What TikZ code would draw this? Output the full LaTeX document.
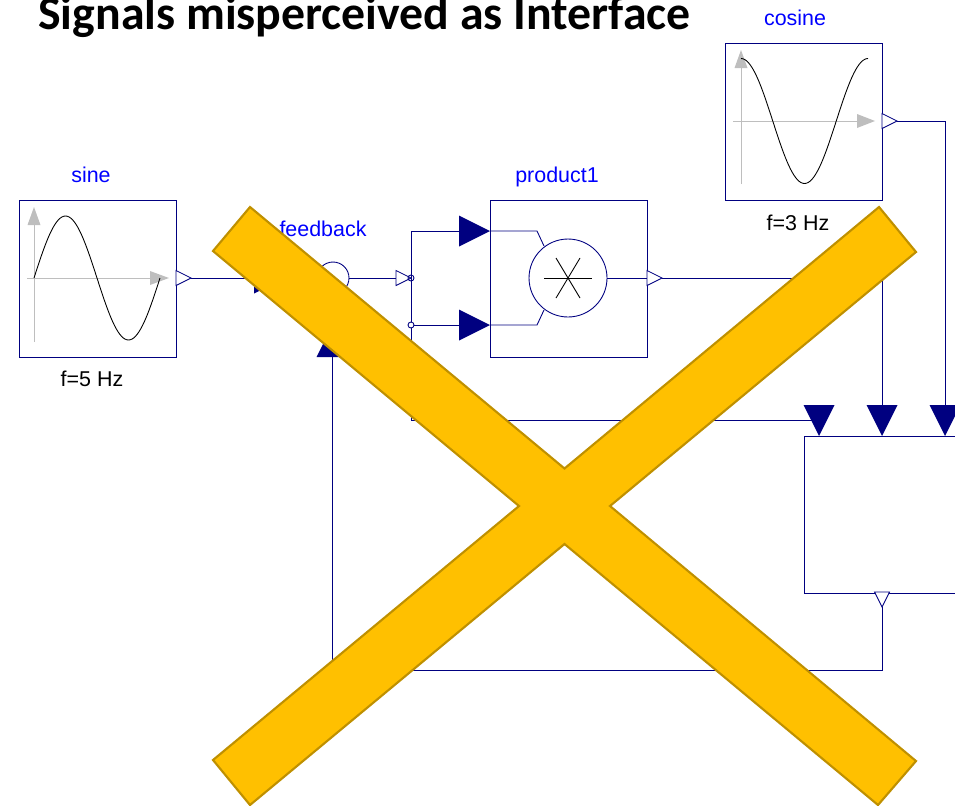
\documentclass[tikz,border=0pt]{standalone}
\usepackage{fontspec}
\setmainfont{Liberation Sans}
\newfontfamily\titlefont{Carlito}
\usepackage{xcolor}
\usetikzlibrary{positioning, calc}
\definecolor{wirenavy}{RGB}{0,0,128}
\definecolor{labelblue}{RGB}{0,0,255}
\definecolor{axisgray}{RGB}{190,190,190}
\definecolor{crossgold}{RGB}{255,192,0}
\definecolor{crossedge}{RGB}{191,144,0}
\tikzset{
    blockbox/.style={draw=wirenavy, line width=0.5pt, minimum size=3.14cm, inner sep=0pt},
    wire/.style={draw=wirenavy, line width=0.5pt},
    outport/.style={draw=wirenavy, fill=white, line width=0.5pt},
    inport/.style={fill=wirenavy},
    axisline/.style={draw=axisgray, line width=0.5pt},
    axistip/.style={fill=axisgray},
    wave/.style={draw=black, line width=0.5pt},
    namelabel/.style={text=labelblue, anchor=base, font=\fontsize{12.2}{14}\selectfont, inner sep=0pt},
    paramlabel/.style={text=black, anchor=base, font=\fontsize{12.2}{14}\selectfont, inner sep=0pt}
}
\begin{document}
\begin{tikzpicture}[x=0.02cm, y=-0.02cm]
    \useasboundingbox (0,0) rectangle (955,805);
    \clip (0,0) rectangle (955,805);

    % title
    \node[anchor=base west, inner sep=0pt, font=\titlefont\bfseries\fontsize{27.2}{32}\selectfont] (title) at (38,29) {Signals misperceived as Interface};

    % blocks
    \node[blockbox] (sine) at (97.5,278.5) {};
    \node[blockbox] (cosine) at (803.5,121.5) {};
    \node[blockbox] (product) at (568.5,278.5) {};
    \node[blockbox, anchor=north west] (collector) at (804,436) {};
    \node[draw=wirenavy, line width=0.5pt, circle, minimum size=0.64cm, inner sep=0pt] (feedback) at (333,278) {};
    \node[draw=wirenavy, line width=0.5pt, circle, minimum size=1.56cm, inner sep=0pt] (mult) at (568,278) {};

    % labels
    \node[namelabel] (sinename) at (91,182) {sine};
    \node[namelabel] (cosinename) at (795,25) {cosine};
    \node[namelabel] (productname) at (557,182.5) {product1};
    \node[namelabel] (feedbackname) at (323,236.5) {feedback};
    \node[paramlabel] (sinefreq) at (92,386.5) {f=5 Hz};
    \node[paramlabel] (cosinefreq) at (798,230.5) {f=3 Hz};

    % port points
    \coordinate (sineout) at (191,278);
    \coordinate (fbleft) at (285,278);
    \coordinate (fbbelow) at (332,326);
    \coordinate (fbout) at (396,278);
    \coordinate (branchA) at (411,278);
    \coordinate (branchB) at (411,325);
    \coordinate (branchtop) at (411,231);
    \coordinate (branchlow) at (411,420);
    \coordinate (prodA) at (459,231);
    \coordinate (prodB) at (459,325);
    \coordinate (prodout) at (662,278);
    \coordinate (cosout) at (897,121);
    \coordinate (collA) at (819,405);
    \coordinate (collB) at (882,405);
    \coordinate (collC) at (945,405);
    \coordinate (collout) at (882,607);
    \coordinate (returnR) at (882,670);
    \coordinate (returnL) at (332,670);

    % connectors
    \draw[wire] (sineout) -- (fbleft);
    \draw[wire] (feedback.east) -- (fbout);
    \draw[wire] (branchtop) -- (branchlow) -- (collA |- branchlow);
    \draw[wire] (branchtop) -- (prodA);
    \draw[wire] (branchB) ++(3,0) -- (prodB);
    \draw[wire] (prodout) -| (collB);
    \draw[wire] (cosout) -| (collC);
    \draw[wire] (collout) -- (returnR) -- (returnL) -- (fbbelow);

    % inside of product1
    \draw[wire] (490,231) -- (537,231) -- (544,246);
    \draw[wire] (490,325) -- (537,325) -- (544,310);
    \draw[wire] (mult.east) -- (647,278);
    \draw[black, line width=0.5pt] (544,278) -- (592,278);
    \draw[black, line width=0.5pt] (556,258) -- (580,298);
    \draw[black, line width=0.5pt] (580,258) -- (556,298);

    % filled input triangles
    \fill[inport] (254,262.5) -- (285,278) -- (254,293.5) -- cycle;
    \fill[inport] (316.5,357) -- (332,326) -- (347.5,357) -- cycle;
    \foreach \y in {231, 325}
        \fill[inport] (459,\y-15.5) -- (490,\y) -- (459,\y+15.5) -- cycle;
    \foreach \x in {819, 882, 945}
        \fill[inport] (\x-15.5,405) -- (\x,436) -- (\x+15.5,405) -- cycle;

    % open output triangles
    \foreach \x/\y in {176/278, 396/278, 647/278, 882/121}
        \draw[outport] (\x,\y-7.5) -- (\x+15,\y) -- (\x,\y+7.5) -- cycle;
    \draw[outport] (874.5,592) -- (882,607) -- (889.5,592) -- cycle;

    % branch points
    \draw[wirenavy, line width=0.5pt] (branchA) circle[radius=3];
    \draw[wirenavy, fill=white, line width=0.5pt] (branchB) circle[radius=3];

    % sine icon
    \draw[axisline] (34,342) -- (34,225);
    \fill[axistip] (27.5,225) -- (34,207) -- (40.5,225) -- cycle;
    \draw[axisline] (27,278) -- (150,278);
    \fill[axistip] (150,271) -- (169,278) -- (150,285) -- cycle;
    \draw[wave] plot[domain=0:360, samples=73, smooth] ({34+\x/360*126}, {278-62*sin(\x)});

    % cosine icon
    \draw[axisline] (741,184) -- (741,68);
    \fill[axistip] (734.5,68) -- (741,50) -- (747.5,68) -- cycle;
    \draw[axisline] (733,121) -- (857,121);
    \fill[axistip] (857,114) -- (875,121) -- (857,128) -- cycle;
    \draw[wave] plot[domain=0:360, samples=73, smooth] ({741+\x/360*127}, {121-62.5*cos(\x)});

    % cross
    \draw[fill=crossgold, draw=crossedge, line width=1.2pt, line join=miter]
        (250,207) -- (564.5,468.5) -- (879,207) -- (916,252) -- (610,506) -- (916,761)
        -- (878,805) -- (564.5,544) -- (250,805) -- (213,760) -- (519,506) -- (213,251) -- cycle;
\end{tikzpicture}
\end{document}
